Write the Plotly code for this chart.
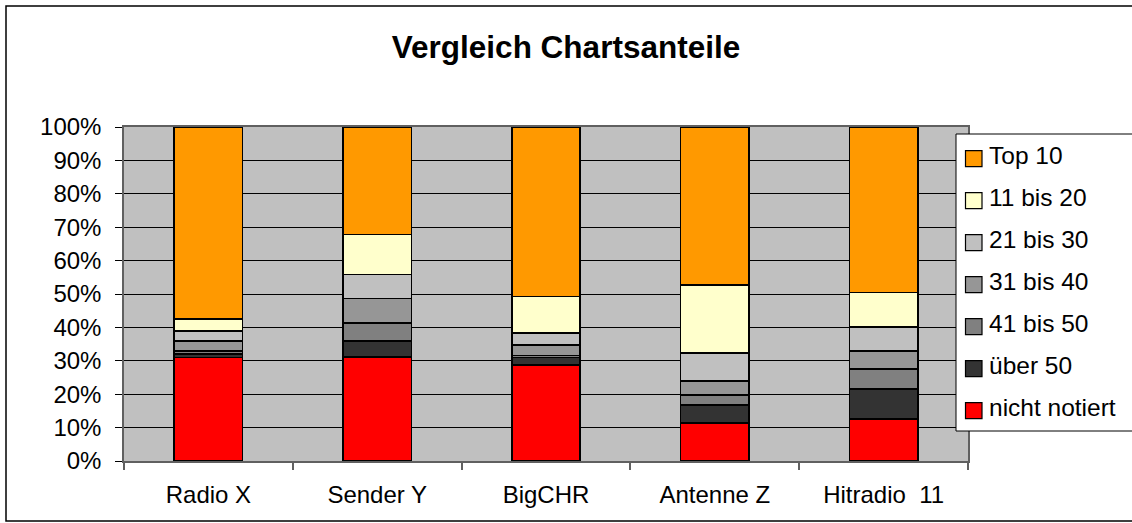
import plotly.graph_objects as go

categories = ["Radio X", "Sender Y", "BigCHR", "Antenne Z", "Hitradio  11"]

# segment shares (%) per category, bottom to top
nicht_notiert = [31.0, 31.2, 28.7, 11.3, 12.6]
ueber_50 = [1.0, 4.8, 2.3, 5.5, 9.0]
bis_41_50 = [1.0, 5.4, 0.6, 3.0, 5.9]
bis_31_40 = [3.0, 7.2, 3.1, 4.2, 5.5]
bis_21_30 = [3.0, 7.2, 3.7, 8.4, 7.1]
bis_11_20 = [3.6, 12.0, 10.8, 20.3, 10.3]
top_10 = [57.4, 32.2, 50.8, 47.3, 49.6]

series_names = ["nicht notiert", "über 50", "41 bis 50", "31 bis 40", "21 bis 30", "11 bis 20", "Top 10"]
series_values = [nicht_notiert, ueber_50, bis_41_50, bis_31_40, bis_21_30, bis_11_20, top_10]
series_colors = ["#FF0000", "#333333", "#808080", "#969696", "#C0C0C0", "#FFFFCC", "#FF9900"]

y_tickvals = [0, 10, 20, 30, 40, 50, 60, 70, 80, 90, 100]
y_ticktext = ["0%", "10%", "20%", "30%", "40%", "50%", "60%", "70%", "80%", "90%", "100%"]

FONT = "Arial, 'Liberation Sans', sans-serif"

fig = go.Figure()
for name, vals, col in zip(series_names, series_values, series_colors):
    fig.add_trace(go.Bar(
        x=categories, y=vals, name=name,
        marker=dict(color=col, line=dict(color="black", width=1.6)),
        hoverinfo="x+y+name",
    ))

L, R, T, B = 124, 968, 127, 461
W, H = 1132, 523
pw, ph = R - L, B - T

def px_x(p):
    return (p - L) / pw

def px_y(p):
    return (B - p) / ph

shapes = [
    # outer chart border
    dict(type="rect", xref="paper", yref="paper",
         x0=px_x(6), x1=px_x(1140), y0=px_y(521), y1=px_y(6),
         line=dict(color="black", width=1.5), fillcolor="rgba(0,0,0,0)", layer="below"),
    # legend box
    dict(type="rect", xref="paper", yref="paper",
         x0=px_x(956), x1=px_x(1145), y0=px_y(431), y1=px_y(134),
         line=dict(color="black", width=1), fillcolor="white", layer="above"),
]
annotations = []
# legend entries, top entry first (reverse of stacking order)
for i, (name, col) in enumerate(zip(reversed(series_names), reversed(series_colors))):
    cy = 158.7 + i * 42
    shapes.append(dict(type="rect", xref="paper", yref="paper",
                       x0=px_x(965.5), x1=px_x(982), y0=px_y(cy + 8), y1=px_y(cy - 8),
                       line=dict(color="black", width=1.2), fillcolor=col, layer="above"))
    annotations.append(dict(xref="paper", yref="paper", x=px_x(987), y=px_y(cy - 3),
                            xanchor="left", yanchor="middle", showarrow=False, text=name,
                            font=dict(family=FONT, size=24.5, color="black")))

fig.update_layout(
    width=W, height=H,
    margin=dict(l=L, r=W - R, t=T, b=H - B, pad=0),
    barmode="stack",
    bargap=0.595,
    plot_bgcolor="#C0C0C0",
    paper_bgcolor="white",
    font=dict(family=FONT, size=24, color="black"),
    title=dict(text="<b>Vergleich Chartsanteile</b>", x=0.5, xanchor="center",
               y=1 - 47 / H, yanchor="middle", yref="container",
               font=dict(family=FONT, size=31.5, color="black")),
    xaxis=dict(
        showgrid=False, showline=True, linecolor="#606060", linewidth=1.5, mirror=True,
        ticks="outside", ticklen=7, tickcolor="#606060", tickwidth=1.5,
        tickson="boundaries", ticklabelstandoff=11,
        tickfont=dict(family=FONT, size=24, color="black"),
    ),
    yaxis=dict(
        range=[0, 100], tickvals=y_tickvals, ticktext=y_ticktext,
        showgrid=True, gridcolor="black", gridwidth=1,
        showline=True, linecolor="#606060", linewidth=1.5, mirror=True,
        ticks="outside", ticklen=7, tickcolor="black", tickwidth=1,
        ticklabelstandoff=9, zeroline=False,
        tickfont=dict(family=FONT, size=24, color="black"),
    ),
    showlegend=False,
    shapes=shapes,
    annotations=annotations,
)

fig.write_html("out.html", config={"displayModeBar": False},
               post_script="document.body.style.margin='0px';document.body.style.overflow='hidden';")
